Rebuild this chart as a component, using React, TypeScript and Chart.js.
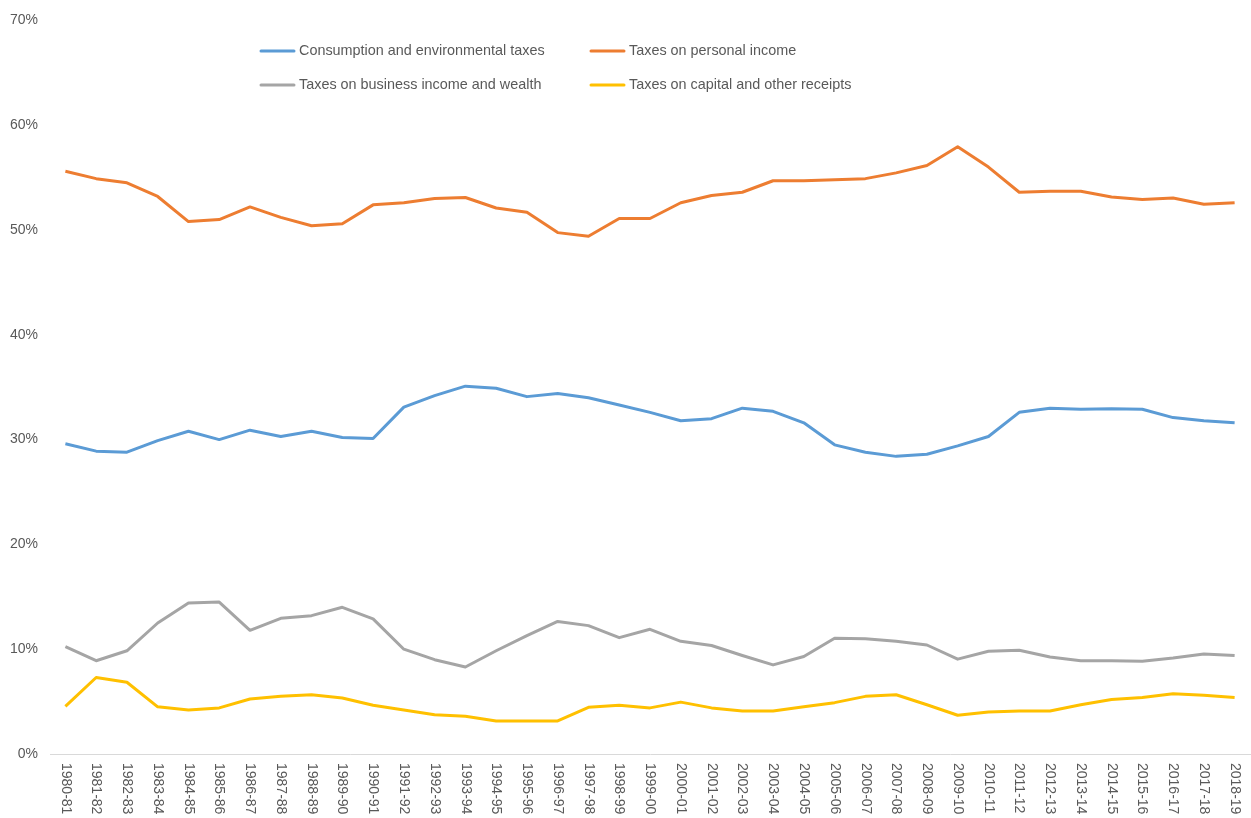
import React, { useEffect, useRef } from "react";
import { Chart, registerables } from "chart.js";

Chart.register(...registerables);

const categories = [
  "1980-81", "1981-82", "1982-83", "1983-84", "1984-85", "1985-86", "1986-87", "1987-88",
  "1988-89", "1989-90", "1990-91", "1991-92", "1992-93", "1993-94", "1994-95", "1995-96",
  "1996-97", "1997-98", "1998-99", "1999-00", "2000-01", "2001-02", "2002-03", "2003-04",
  "2004-05", "2005-06", "2006-07", "2007-08", "2008-09", "2009-10", "2010-11", "2011-12",
  "2012-13", "2013-14", "2014-15", "2015-16", "2016-17", "2017-18", "2018-19",
];

const consumption = [
  29.6, 28.9, 28.8, 29.9, 30.8, 30.0, 30.9, 30.3, 30.8, 30.2, 30.1, 33.1, 34.2, 35.1, 34.9,
  34.1, 34.4, 34.0, 33.3, 32.6, 31.8, 32.0, 33.0, 32.7, 31.6, 29.5, 28.8, 28.4, 28.6, 29.4,
  30.3, 32.6, 33.0, 32.9, 32.95, 32.9, 32.1, 31.8, 31.6,
];

const personal = [
  55.6, 54.9, 54.5, 53.2, 50.8, 51.0, 52.2, 51.2, 50.4, 50.6, 52.4, 52.6, 53.0, 53.1, 52.1,
  51.7, 49.75, 49.4, 51.1, 51.1, 52.6, 53.3, 53.6, 54.7, 54.7, 54.8, 54.9, 55.45, 56.15, 57.95,
  56.0, 53.6, 53.7, 53.7, 53.15, 52.9, 53.05, 52.45, 52.6,
];

const business = [
  10.25, 8.9, 9.85, 12.5, 14.4, 14.5, 11.8, 12.95, 13.2, 14.0, 12.9, 10.0, 9.0, 8.3, 9.85,
  11.3, 12.65, 12.25, 11.1, 11.9, 10.75, 10.35, 9.4, 8.5, 9.3, 11.05, 11.0, 10.75, 10.4, 9.05,
  9.8, 9.9, 9.25, 8.9, 8.9, 8.85, 9.15, 9.55, 9.4,
];

const capital = [
  4.55, 7.3, 6.85, 4.5, 4.2, 4.4, 5.25, 5.5, 5.65, 5.35, 4.65, 4.2, 3.75, 3.6, 3.15, 3.15,
  3.15, 4.45, 4.65, 4.4, 4.95, 4.4, 4.1, 4.1, 4.5, 4.9, 5.5, 5.65, 4.7, 3.7, 4.0, 4.1, 4.1,
  4.7, 5.2, 5.4, 5.75, 5.6, 5.4,
];

const seriesNames = [
  "Consumption and environmental taxes",
  "Taxes on personal income",
  "Taxes on business income and wealth",
  "Taxes on capital and other receipts",
];

const seriesColors = ["#5B9BD5", "#ED7D31", "#A5A5A5", "#FFC000"];

const FONT = "'Liberation Sans', Arial, sans-serif";
const TEXT_COLOR = "#595959";

const rotatedXLabels = {
  id: "rotatedXLabels",
  afterDraw(chart: any) {
    const ctx = chart.ctx;
    const xScale = chart.scales.x;
    const top = chart.chartArea.bottom + 9;
    ctx.save();
    ctx.fillStyle = TEXT_COLOR;
    ctx.font = `14px ${FONT}`;
    ctx.textAlign = "left";
    ctx.textBaseline = "middle";
    categories.forEach((label, i) => {
      const x = xScale.getPixelForValue(i);
      ctx.save();
      ctx.translate(x, top);
      ctx.rotate(Math.PI / 2);
      ctx.fillText(label, 0, 0);
      ctx.restore();
    });
    ctx.restore();
  },
};

const customLegend = {
  id: "customLegend",
  afterDraw(chart: any) {
    const ctx = chart.ctx;
    const colX = [260, 590];
    const rowY = [51, 85];
    ctx.save();
    ctx.font = `14.4px ${FONT}`;
    ctx.textAlign = "left";
    ctx.textBaseline = "middle";
    chart.data.datasets.forEach((ds: any, i: number) => {
      const cx = colX[i % 2];
      const cy = rowY[Math.floor(i / 2)];
      ctx.strokeStyle = ds.borderColor;
      ctx.lineWidth = 3;
      ctx.lineCap = "round";
      ctx.beginPath();
      ctx.moveTo(cx + 1, cy);
      ctx.lineTo(cx + 34, cy);
      ctx.stroke();
      ctx.fillStyle = TEXT_COLOR;
      ctx.fillText(ds.label, cx + 39, cy);
    });
    ctx.restore();
  },
};

export default function App() {
  const canvasRef = useRef<HTMLCanvasElement | null>(null);

  useEffect(() => {
    document.body.style.margin = "0";
    const canvas = canvasRef.current;
    if (!canvas) return;
    const values = [consumption, personal, business, capital];
    const chart = new Chart(canvas, {
      type: "line",
      data: {
        labels: categories,
        datasets: values.map((v, i) => ({
          label: seriesNames[i],
          data: v,
          borderColor: seriesColors[i],
          backgroundColor: seriesColors[i],
          borderWidth: 3,
          pointRadius: 0,
          pointHoverRadius: 0,
          tension: 0,
          borderJoinStyle: "round" as const,
          fill: false,
        })),
      },
      options: {
        animation: false,
        responsive: false,
        maintainAspectRatio: false,
        layout: { padding: { top: 13, right: 1, left: 0, bottom: 0 } },
        plugins: {
          legend: { display: false },
          tooltip: { enabled: false },
        },
        scales: {
          x: {
            type: "category",
            offset: true,
            grid: { display: false, drawTicks: false },
            border: { display: true, color: "#D9D9D9", width: 1 },
            ticks: { display: false },
            afterFit(scale: any) {
              scale.height = 64;
            },
          },
          y: {
            min: 0,
            max: 70,
            grid: { display: false, drawTicks: false },
            border: { display: false },
            ticks: {
              stepSize: 10,
              padding: 12,
              color: TEXT_COLOR,
              font: { family: FONT, size: 14 },
              callback: (v: any) => `${v}%`,
            },
            afterFit(scale: any) {
              scale.width = 50;
            },
          },
        },
      },
      plugins: [rotatedXLabels, customLegend],
    });
    return () => chart.destroy();
  }, []);

  return (
    <div style={{ width: 1251, height: 818, background: "#fff" }}>
      <canvas ref={canvasRef} width={1251} height={818} style={{ display: "block" }} />
    </div>
  );
}
